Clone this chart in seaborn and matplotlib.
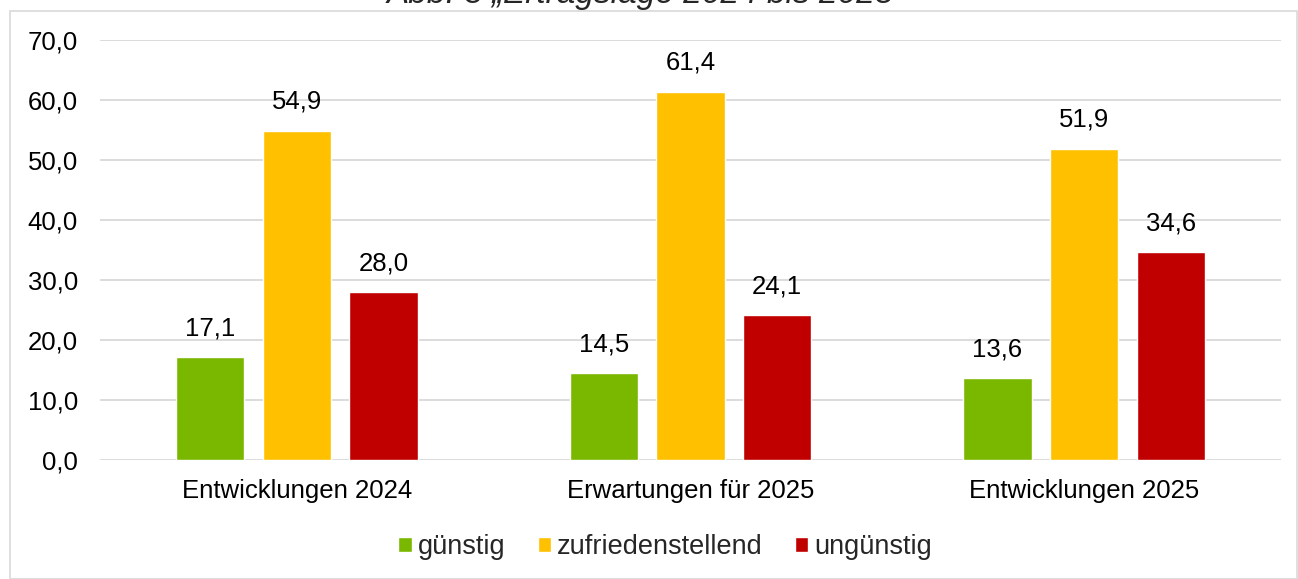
import matplotlib
matplotlib.use("Agg")
import matplotlib.pyplot as plt
import seaborn as sns
import pandas as pd
from matplotlib.patches import Rectangle

categories = ["Entwicklungen 2024", "Erwartungen für 2025", "Entwicklungen 2025"]
series_names = ["günstig", "zufriedenstellend", "ungünstig"]
guenstig = [17.1, 14.5, 13.6]
zufrieden = [54.9, 61.4, 51.9]
unguenstig = [28.0, 24.1, 34.6]
colors = ["#7AB800", "#FFC000", "#C00000"]
title = "Abb. 3 „Ertragslage 2024 bis 2025"

rows = []
for name, vals in zip(series_names, [guenstig, zufrieden, unguenstig]):
    for c, v in zip(categories, vals):
        rows.append({"Kategorie": c, "Bewertung": name, "Wert": v})
df = pd.DataFrame(rows)

sns.set_theme(style="white")
plt.rcParams["font.family"] = ["Liberation Sans", "DejaVu Sans"]

FS = 18.5
W, H = 1298, 579
fig = plt.figure(figsize=(W / 100, H / 100), dpi=100)
ax = fig.add_axes([100 / W, 1 - 460 / H, (1281 - 100) / W, (460 - 40) / H])

sns.barplot(data=df, x="Kategorie", y="Wert", hue="Bewertung",
            hue_order=series_names, order=categories, palette=colors,
            width=0.66, gap=0.21, saturation=1, ax=ax, legend=True)

ax.set_ylim(0, 70)
ax.set_xlim(-0.5, 2.5)
ax.set_yticks(range(0, 71, 10))
ax.set_yticklabels([f"{t:.1f}".replace(".", ",") for t in range(0, 71, 10)], fontsize=FS, color="#000000")
ax.tick_params(axis="y", length=0, pad=16)
ax.tick_params(axis="x", length=0, pad=14, labelsize=FS, labelcolor="#000000")
ax.set_xlabel("")
ax.set_ylabel("")
for s in ax.spines.values():
    s.set_visible(False)
ax.grid(axis="y", color="#D9D9D9", linewidth=1.3)
ax.set_axisbelow(True)

for cont in ax.containers:
    labels = [f"{b.get_height():.1f}".replace(".", ",") for b in cont]
    ax.bar_label(cont, labels=labels, padding=12, fontsize=FS, color="#000000")

handles, labs = ax.get_legend_handles_labels()
ax.legend_.remove()
fig.legend(handles, labs, loc="center", bbox_to_anchor=(665 / W, 1 - 547 / H), ncol=3,
           frameon=False, fontsize=19.5, handlelength=0.5, handleheight=0.5,
           handletextpad=0.2, columnspacing=1.2)

fig.patches.append(Rectangle((10 / W, 0), (W - 11) / W, 1 - 11 / H, transform=fig.transFigure,
                             fill=False, edgecolor="#D9D9D9", linewidth=1.2))
fig.text(0.493, 1 - 3 / H, title, ha="center", va="baseline", fontsize=24, style="italic")

fig.savefig("out.png", dpi=100)
